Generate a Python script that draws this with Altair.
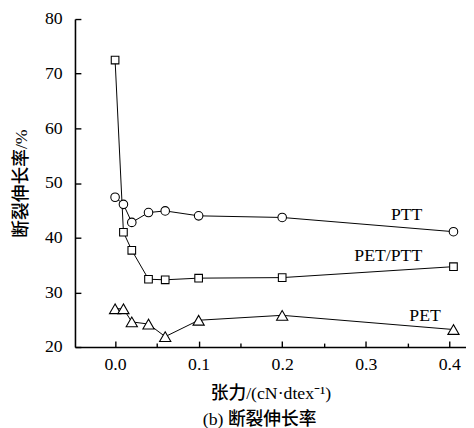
import altair as alt
import pandas as pd

tension = [0.0, 0.01, 0.02, 0.04, 0.06, 0.1, 0.2, 0.405]
ptt = [47.4, 46.1, 42.8, 44.6, 44.9, 44.0, 43.7, 41.1]
pet_ptt = [72.5, 41.0, 37.7, 32.4, 32.3, 32.6, 32.7, 34.7]
pet = [27.0, 27.0, 24.6, 24.2, 21.9, 24.9, 25.8, 23.2]
series_names = ["PTT", "PET/PTT", "PET"]
shapes = ["circle", "square", "triangle-up"]
sizes = [75, 60, 130]

label_text = ["PTT", "PET/PTT", "PET"]
label_x = [0.349, 0.327, 0.371]
label_y = [44.1, 36.6, 25.6]

x_ticks = [0.0, 0.05, 0.1, 0.15, 0.2, 0.25, 0.3, 0.35, 0.4]
y_ticks = [20, 25, 30, 35, 40, 45, 50, 55, 60, 65, 70, 75, 80]

df = pd.DataFrame({
    "tension": tension * 3,
    "value": ptt + pet_ptt + pet,
    "series": [s for s in series_names for _ in tension],
})
labels = pd.DataFrame({"text": label_text, "x": label_x, "y": label_y})

SERIF = "Liberation Serif, Noto Sans CJK SC"

xscale = alt.Scale(domain=[-0.048, 0.42], nice=False, zero=False)
yscale = alt.Scale(domain=[20, 80], nice=False, zero=False)

xaxis = alt.Axis(
    values=x_ticks,
    labelExpr="round(datum.value*20) % 2 === 0 ? format(datum.value, '.1f') : ''",
    tickSize={"condition": {"test": "round(datum.value*20) % 2 === 0", "value": -6}, "value": -4},
    labelPadding=15,
    title="张力/(cN·dtex⁻¹)",
    titlePadding=11,
)
yaxis = alt.Axis(
    values=y_ticks,
    labelExpr="datum.value % 10 === 0 ? datum.value : ''",
    tickSize={"condition": {"test": "datum.value % 10 === 0", "value": -6}, "value": -3},
    labelPadding=19,
    title="断裂伸长率/%",
    titlePadding=14,
)

base = alt.Chart(df)
lines = base.mark_line(color="black", strokeWidth=1).encode(
    x=alt.X("tension:Q", scale=xscale, axis=xaxis),
    y=alt.Y("value:Q", scale=yscale, axis=yaxis),
    detail="series:N",
)
points = base.mark_point(filled=True, fill="white", stroke="black", strokeWidth=1.1, opacity=1).encode(
    x=alt.X("tension:Q", scale=xscale),
    y=alt.Y("value:Q", scale=yscale),
    shape=alt.Shape("series:N", scale=alt.Scale(domain=series_names, range=shapes), legend=None),
    size=alt.Size("series:O", scale=alt.Scale(type="ordinal", domain=series_names, range=sizes), legend=None),
)
texts = alt.Chart(labels).mark_text(font=SERIF, fontSize=18, color="black", align="center", baseline="middle").encode(
    x=alt.X("x:Q", scale=xscale),
    y=alt.Y("y:Q", scale=yscale),
    text="text:N",
)

chart = alt.layer(lines, points, texts).properties(
    width=397,
    height=333,
    autosize=alt.AutoSizeParams(type="none"),
    padding={"left": 68, "top": 8, "right": 0, "bottom": 79},
    title=alt.TitleParams("(b) 断裂伸长率", orient="bottom", font=SERIF, fontSize=18, fontWeight=500,
                          color="black", offset=9, dx=-11),
).configure_view(stroke=None).configure_axis(
    grid=False,
    domainColor="black",
    domainWidth=1.6,
    tickColor="black",
    tickWidth=1.4,
    labelFont=SERIF,
    labelFontSize=18,
    labelColor="black",
    titleFont=SERIF,
    titleFontSize=18,
    titleFontWeight=500,
    titleColor="black",
)

chart.save("out.html", embed_options={"renderer": "svg", "actions": False})
